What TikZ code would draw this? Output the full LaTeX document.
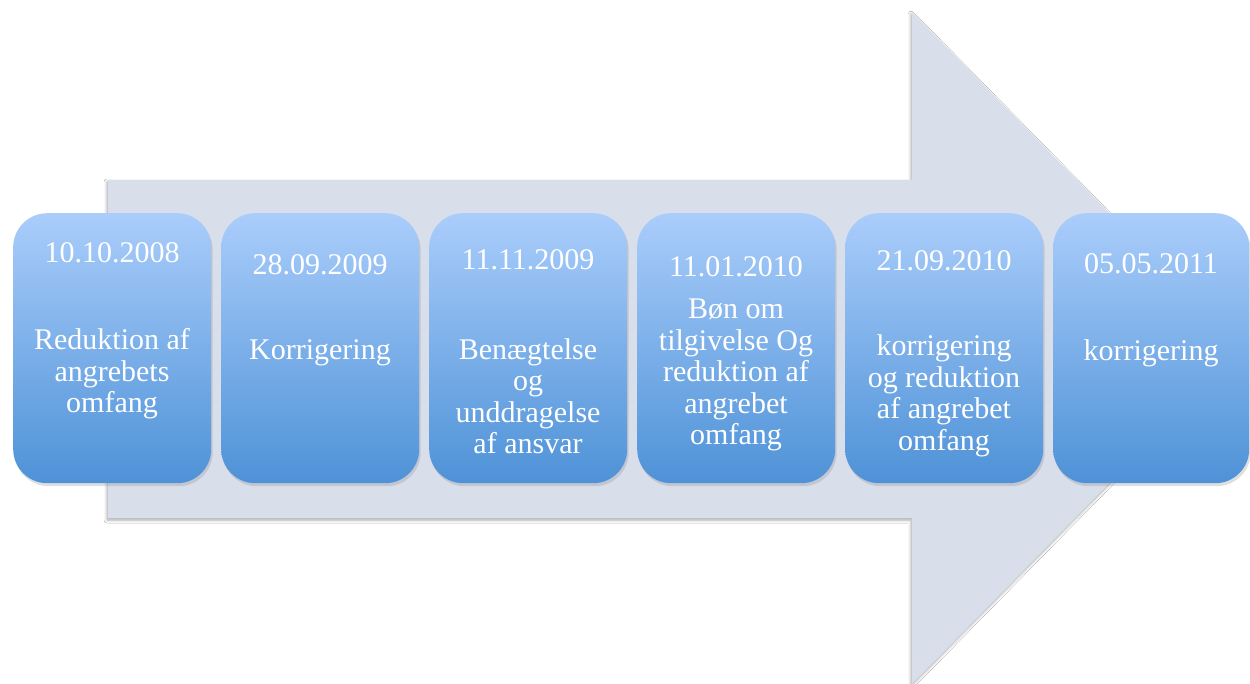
\documentclass[tikz,border=0pt]{standalone}
\usepackage{fontspec}
\setmainfont{Liberation Serif}
\usetikzlibrary{shadows,shadows.blur}
\definecolor{arrowfill}{HTML}{D9DEEB}
\definecolor{boxtop}{HTML}{AACDFB}
\definecolor{boxbot}{HTML}{4E92D7}
\begin{document}
\begin{tikzpicture}[x=1pt,y=-1pt,
  stage/.style={rectangle, rounded corners=34pt, minimum width=198pt, minimum height=270pt,
    top color=boxtop, bottom color=boxbot, draw=none, anchor=north west,
    drop shadow={shadow xshift=1.5pt, shadow yshift=-3pt, opacity=0.25}},
  txt/.style={text=white, font=\fontsize{30}{31.5}\selectfont, align=center, inner sep=0pt}]
\useasboundingbox (0,0) rectangle (1250,684);
\fill[white] (0,0) rectangle (1250,684);
\path[fill=arrowfill, blur shadow={shadow xshift=-1pt, shadow yshift=-2pt, shadow blur radius=3pt, shadow opacity=35}]
  (108,180) -- (912,180) -- (912,12) -- (1242,348) -- (912,684) -- (912,518) -- (108,518) -- cycle;
\node[stage] (b1) at (13,213) {};
\node[stage] (b2) at (221,213) {};
\node[stage] (b3) at (429,213) {};
\node[stage] (b4) at (637,213) {};
\node[stage] (b5) at (845,213) {};
\node[stage, minimum width=196pt] (b6) at (1053,213) {};
\node[txt] (d1) at (112,253) {10.10.2008};
\node[txt] (t1) at (112,374) {Reduktion af\\angrebets\\omfang};
\node[txt] (d2) at (320,265) {28.09.2009};
\node[txt] (t2) at (320,353) {Korrigering};
\node[txt] (d3) at (528,260) {11.11.2009};
\node[txt] (t3) at (528,396) {Benægtelse\\og\\unddragelse\\af ansvar};
\node[txt] (d4) at (736,267) {11.01.2010};
\node[txt] (t4) at (736,375) {Bøn om\\tilgivelse Og\\reduktion af\\angrebet\\omfang};
\node[txt] (d5) at (944,261) {21.09.2010};
\node[txt] (t5) at (944,396) {korrigering\\og reduktion\\af angrebet\\omfang};
\node[txt] (d6) at (1151,264) {05.05.2011};
\node[txt] (t6) at (1151,353) {korrigering};
\end{tikzpicture}
\end{document}
